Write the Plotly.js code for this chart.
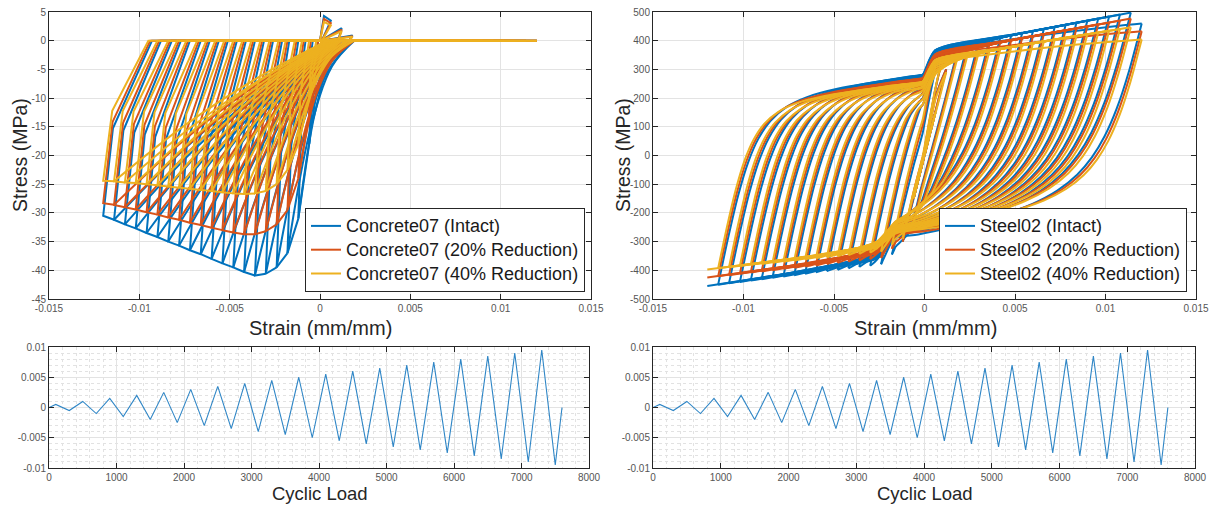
<!DOCTYPE html>
<html><head><meta charset="utf-8">
<script src="https://cdn.plot.ly/plotly-3.0.1.min.js"></script>
<style>html,body{margin:0;padding:0;background:#fff}#chart{width:1209px;height:506px}</style>
</head><body><div id="chart"></div>
<script>
// ---------------- data ----------------
const seriesNames = ["(Intact)", "(20% Reduction)", "(40% Reduction)"];
const seriesColors = ["#0072BD", "#D95319", "#EDB120"];

// strain amplitude of each cycle (mm/mm)
const cycleAmp = [0.0006,0.0012,0.0018,0.0024,0.0030,0.0036,0.0042,0.0048,0.0054,0.0060,
                  0.0066,0.0072,0.0078,0.0084,0.0090,0.0096,0.0102,0.0108,0.0114,0.0120];

// Concrete07: compressive stress at each cycle's peak (MPa)
const concEnvIntact = [-18,-31,-37,-39.5,-40.6,-40.9,-40.3,-39.5,-38.8,-38.0,-37.2,-36.5,-35.7,-35.0,-34.2,-33.5,-32.7,-32.0,-31.2,-30.5];
const concEnv20 = [-13,-24,-29.5,-32,-33.2,-33.7,-33.7,-33.4,-33.0,-32.6,-32.1,-31.7,-31.2,-30.8,-30.3,-29.9,-29.4,-29.0,-28.6,-28.3];
const concEnv40 = [-10,-18,-22.5,-25,-26.2,-26.6,-26.7,-26.6,-26.4,-26.2,-26.0,-25.8,-25.6,-25.4,-25.2,-25.0,-24.8,-24.7,-24.5,-24.4];
// Concrete07: strain where unloading reaches zero stress
const concPlIntact = [-0.0001,-0.0004,-0.0008,-0.0012,-0.0017,-0.0021,-0.0026,-0.0031,-0.0036,-0.0041,-0.0046,-0.0051,-0.0056,-0.0061,-0.0066,-0.0072,-0.0077,-0.0082,-0.0088,-0.0093];
const concPl20 = [-0.0001,-0.0005,-0.0009,-0.0013,-0.0018,-0.0022,-0.0027,-0.0032,-0.0037,-0.0042,-0.0047,-0.0052,-0.0057,-0.0062,-0.0067,-0.0073,-0.0078,-0.0083,-0.0089,-0.0094];
const concPl40 = [-0.0002,-0.0006,-0.0010,-0.0014,-0.0019,-0.0023,-0.0028,-0.0033,-0.0038,-0.0043,-0.0048,-0.0053,-0.0058,-0.0063,-0.0068,-0.0074,-0.0079,-0.0084,-0.0090,-0.0095];
// strain where compressive reloading starts (tension side)
const concReload = [0.0001,0.0010,0.0016,0.0019,0.0018,0.0016,0.0014,0.0012,0.0011,0.0010,0.0009,0.0008,0.0008,0.0007,0.0007,0.0006,0.0006,0.0005,0.0005,0.0004];
// reloading curve: stress fraction reached at 1/3 and 2/3 of the strain path
const concReloadMid1 = [0.20,0.10,0.10,0.12,0.14,0.16,0.18,0.20,0.21,0.22,0.23,0.24,0.24,0.25,0.25,0.26,0.26,0.26,0.27,0.27];
const concReloadMid2 = [0.50,0.40,0.40,0.43,0.46,0.49,0.51,0.53,0.54,0.55,0.56,0.57,0.57,0.58,0.58,0.59,0.59,0.59,0.60,0.60];
// tensile strength (MPa)
const concFt = [4.3, 3.8, 3.3];

// Steel02: peak stresses of each cycle (MPa)
const steelPosIntact = [150,300,360,393,400,407,414,421,428,435,442,449,456,463,470,477,484,491,498,460];
const steelPos20     = [150,300,350,377,383,390,397,403,410,417,423,430,437,443,450,457,463,470,477,433];
const steelPos40     = [150,290,335,355,361,367,373,379,386,392,398,404,410,417,423,429,435,441,447,404];
const steelNegIntact = [-150,-300,-345,-379,-384,-388,-393,-398,-403,-407,-412,-417,-422,-426,-431,-436,-441,-445,-450,-455];
const steelNeg20     = [-150,-300,-325,-357,-361,-366,-370,-374,-378,-383,-387,-391,-395,-400,-404,-408,-412,-417,-421,-425];
const steelNeg40     = [-150,-290,-310,-335,-339,-343,-347,-351,-355,-358,-362,-366,-370,-374,-378,-381,-385,-389,-393,-397];
// asymptote lines of the loops [intercept MPa, slope MPa]
const steelUpperPre  = [[288, 8000], [275, 7600], [262, 7200]];   // upward branches, strain < step
const steelUpperPost = [[365, 11700], [350, 11100], [330, 10300]]; // upward branches, strain > step
const steelLowerPre  = [[-300, 8000], [-290, 7600], [-280, 7200]]; // downward branches, strain > step
const steelLowerPost = [[-360, 7900], [-340, 7100], [-320, 6400]]; // downward branches, strain < step
const steelUpperStep = [-0.0001, 0.0006];
const steelLowerStep = [-0.0016, -0.0026];
// initial slope of upward / downward branches (MPa)
const steelSlopeUp = 300000, steelSlopeDown = 250000;
// roundness of each cycle's transition (0 = sharp, 1 = fully rounded)
const steelRound = [1,1,0.3,0.55,0.75,0.9,1,1,1,1,1,1,1,1,1,1,1,1,1,1];
// transition curve shapes: strain ratio -> stress ratio
const mpRatio     = [0, 0.25, 0.5, 0.75, 1, 1.3, 1.7, 2.2, 3, 4.5, 7, 10, 15];
const mpShapeUp   = [0, 0.2469, 0.4685, 0.6399, 0.7579, 0.8460, 0.9101, 0.9492, 0.9755, 0.9909, 0.9969, 0.9988, 0.9996];
const mpShapeDown = [0, 0.2368, 0.4279, 0.5686, 0.6686, 0.7509, 0.8210, 0.8736, 0.9190, 0.9560, 0.9778, 0.9873, 0.9932];

// loading history
const loadStep = [0,100,300,500,700,900,1100,1300,1500,1700,1900,2100,2300,2500,2700,2900,3100,3300,3500,3700,3900,4100,4300,4500,4700,4900,5100,5300,5500,5700,5900,6100,6300,6500,6700,6900,7100,7300,7500,7600];
const loadStrain = [0,0.0005,-0.0005,0.001,-0.001,0.0015,-0.0015,0.002,-0.002,0.0025,-0.0025,0.003,-0.003,0.0035,-0.0035,0.004,-0.004,0.0045,-0.0045,0.005,-0.005,0.0055,-0.0055,0.006,-0.006,0.0065,-0.0065,0.007,-0.007,0.0075,-0.0075,0.008,-0.008,0.0085,-0.0085,0.009,-0.009,0.0095,-0.0095,0];

// tick labels
const strainTicks = [-0.015,-0.01,-0.005,0,0.005,0.01,0.015];
const strainTickText = ["-0.015","-0.01","-0.005","0","0.005","0.01","0.015"];
const concTicks = [5,0,-5,-10,-15,-20,-25,-30,-35,-40,-45];
const concTickText = ["5","0","-5","-10","-15","-20","-25","-30","-35","-40","-45"];
const steelTicks = [500,400,300,200,100,0,-100,-200,-300,-400,-500];
const steelTickText = ["500","400","300","200","100","0","-100","-200","-300","-400","-500"];
const loadYTicks = [0.01,0.005,0,-0.005,-0.01];
const loadYTickText = ["0.01","0.005","0","-0.005","-0.01"];
const loadXTicks = [0,1000,2000,3000,4000,5000,6000,7000,8000];
const loadXTickText = ["0","1000","2000","3000","4000","5000","6000","7000","8000"];

// ---------------- path construction ----------------
function concreteTraces(env, pl, ft, color, name, legend) {
  const lx = [], ly = [];   // straight parts
  const sx = [], sy = [];   // curved reloading parts
  const soft = a => Math.max(0, ft * (1 - (a - 0.00022) / 0.0020));
  lx.push(0, 0.00022, cycleAmp[0], 0.0001); ly.push(0, ft, soft(cycleAmp[0]), 0);
  for (let k = 0; k < cycleAmp.length; k++) {
    const a = cycleAmp[k];
    const tEnd = k === 0 ? -a : -cycleAmp[k - 1];
    const sEnd = k === 0 ? env[0] : env[k - 1];
    const r = concReload[k];
    sx.push(r, r + (tEnd - r) / 3, r + 2 * (tEnd - r) / 3, tEnd, null);
    sy.push(0, concReloadMid1[k] * sEnd, concReloadMid2[k] * sEnd, sEnd, null);
    const kinkE = -a + 0.2 * (pl[k] + a);
    lx.push(null, tEnd, -a, kinkE, pl[k]);
    ly.push(null, sEnd, env[k], 0.5 * env[k], 0);
    if (k + 1 < cycleAmp.length) {
      const an = cycleAmp[k + 1];
      lx.push(0.00005 * (k + 1), an, concReload[k + 1]);
      ly.push(0, soft(an), 0);
    } else {
      lx.push(0.012); ly.push(0);
    }
  }
  return [
    {x: lx, y: ly, type: 'scatter', mode: 'lines', line: {color, width: 2},
     name: '<span style="font-size:18px">Concrete07 ' + name + '</span>',
     xaxis: 'x', yaxis: 'y', legend: legend, showlegend: true, connectgaps: false},
    {x: sx, y: sy, type: 'scatter', mode: 'lines', line: {color, width: 2, shape: 'spline', smoothing: 1},
     xaxis: 'x', yaxis: 'y', showlegend: false, connectgaps: false, hoverinfo: 'skip'}
  ];
}

function makeAsym(pre, post, step, dir) {
  // asymptote in "rising" coordinates (strain and stress multiplied by dir)
  return e => {
    const eps = dir * e;
    let s;
    const inPre = dir > 0 ? eps <= step[0] : eps >= step[0];
    const inPost = dir > 0 ? eps >= step[1] : eps <= step[1];
    if (inPre) s = pre[0] + pre[1] * eps;
    else if (inPost) s = post[0] + post[1] * eps;
    else {
      const a = pre[0] + pre[1] * step[0], b = post[0] + post[1] * step[1];
      s = a + (b - a) * (eps - step[0]) / (step[1] - step[0]);
    }
    return dir * s;
  };
}

function steelBranch(x, y, er0, sr0, ee0, se0, asymR, dir, round, stepPts) {
  const er = dir * er0, sr = dir * sr0, ee = dir * ee0, se = dir * se0;
  const E0 = dir > 0 ? steelSlopeUp : steelSlopeDown;
  const shape = dir > 0 ? mpShapeUp : mpShapeDown;
  const el = e => sr + E0 * (e - er);
  let lo = er, hi = er + 0.05;
  for (let i = 0; i < 60; i++) { const m = (lo + hi) / 2; if (el(m) - asymR(m) < 0) lo = m; else hi = m; }
  const ce = (lo + hi) / 2, cs = asymR(ce);
  if (ee <= ce) { x.push(er0, ee0, null); y.push(sr0, se0, null); return; }
  const Kc = (cs - sr) - (asymR(ce) - asymR(er));
  const pts = [];
  for (let i = 0; i < mpRatio.length; i++) {
    const e = er + mpRatio[i] * (ce - er);
    if (e >= ee) break;
    pts.push(e);
  }
  stepPts.forEach(p => { const e = dir * p; if (e > er && e < ee) pts.push(e); });
  pts.push(ee);
  pts.sort((a, b) => a - b);
  const fAt = r => {
    let f;
    if (r >= mpRatio[mpRatio.length - 1]) f = 1;
    else {
      let j = 1; while (mpRatio[j] < r) j++;
      const t = (r - mpRatio[j - 1]) / (mpRatio[j] - mpRatio[j - 1]);
      f = shape[j - 1] + t * (shape[j] - shape[j - 1]);
    }
    return round * f + (1 - round) * Math.min(r, 1);
  };
  const sc = e => asymR(e) - (1 - fAt((e - er) / (ce - er))) * Kc;
  const delta = se - sc(ee);
  pts.forEach(e => {
    const t = (e - er) / (ee - er);
    x.push(dir * e); y.push(dir * (sc(e) + delta * t * t * t));
  });
  x.push(null); y.push(null);
}

function steelTraces(i, pos, neg, color, name, legend) {
  const x = [], y = [];
  const up = makeAsym(steelUpperPre[i], steelUpperPost[i], steelUpperStep, 1);
  const dn = makeAsym(steelLowerPre[i], steelLowerPost[i], steelLowerStep, -1);
  let e0 = 0, s0 = 0;
  for (let k = 0; k < cycleAmp.length; k++) {
    const a = cycleAmp[k];
    if (k === 0) { x.push(0, a, null); y.push(0, pos[0], null); }
    else steelBranch(x, y, e0, s0, a, pos[k], up, 1, steelRound[k], steelUpperStep);
    steelBranch(x, y, a, pos[k], -a, neg[k], dn, -1, steelRound[k], steelLowerStep);
    e0 = -a; s0 = neg[k];
  }
  return [{x, y, type: 'scatter', mode: 'lines', line: {color, width: 2, shape: 'spline', smoothing: 0.7},
           name: '<span style="font-size:18px">Steel02 ' + name + '</span>',
           xaxis: 'x2', yaxis: 'y2', legend: legend, connectgaps: false}];
}

const concEnv = [concEnvIntact, concEnv20, concEnv40];
const concPl = [concPlIntact, concPl20, concPl40];
const steelPos = [steelPosIntact, steelPos20, steelPos40];
const steelNeg = [steelNegIntact, steelNeg20, steelNeg40];

let traces = [];
for (let i = 0; i < 3; i++) traces = traces.concat(concreteTraces(concEnv[i], concPl[i], concFt[i], seriesColors[i], seriesNames[i], 'legend'));
for (let i = 0; i < 3; i++) traces = traces.concat(steelTraces(i, steelPos[i], steelNeg[i], seriesColors[i], seriesNames[i], 'legend2'));
traces.push({x: loadStep, y: loadStrain, type: 'scatter', mode: 'lines', line: {color: '#2f86c6', width: 1.1}, xaxis: 'x3', yaxis: 'y3', showlegend: false});
traces.push({x: loadStep, y: loadStrain, type: 'scatter', mode: 'lines', line: {color: '#2f86c6', width: 1.1}, xaxis: 'x4', yaxis: 'y4', showlegend: false});

// ---------------- layout ----------------
const FONT = 'Liberation Sans, Arial, Helvetica, sans-serif';
const W = 1209, H = 506;
const px = v => v / W, py = v => 1 - v / H;
const baseAxis = {
  showline: true, mirror: 'ticks', linecolor: '#262626', linewidth: 1,
  ticks: 'inside', ticklen: 5, tickcolor: '#262626', tickwidth: 1,
  showgrid: true, gridcolor: '#e3e3e3', zeroline: false,
  tickfont: {family: FONT, size: 10, color: '#555'}, fixedrange: true
};
const ax = o => Object.assign({}, baseAxis, o);
const minorX = {dtick: 200, showgrid: true, gridcolor: '#e2e2e2', griddash: 'dot', ticks: ''};
const minorY = {dtick: 0.001, showgrid: true, gridcolor: '#e2e2e2', griddash: 'dot', ticks: ''};
const legendBase = {xanchor: 'right', yanchor: 'bottom', bgcolor: '#fff', bordercolor: '#262626', borderwidth: 1,
                    font: {family: FONT, size: 16, color: '#1a1a1a'}, tracegroupgap: 0};
const ann = (text, x, y, size, angle) => ({text, x: px(x), y: py(y), xref: 'paper', yref: 'paper', showarrow: false,
  xanchor: 'center', yanchor: 'middle', textangle: angle || 0, font: {family: FONT, size, color: '#262626'}});

const layout = {
  width: W, height: H, margin: {l: 0, r: 0, t: 0, b: 0},
  paper_bgcolor: '#fff', plot_bgcolor: '#fff', showlegend: true,
  font: {family: FONT},
  xaxis: ax({domain: [px(49), px(591)], range: [-0.015, 0.015], tickvals: strainTicks, ticktext: strainTickText, anchor: 'y'}),
  yaxis: ax({domain: [py(299), py(12)], range: [-45, 5], tickvals: concTicks, ticktext: concTickText, anchor: 'x'}),
  xaxis2: ax({domain: [px(653), px(1196)], range: [-0.015, 0.015], tickvals: strainTicks, ticktext: strainTickText, anchor: 'y2'}),
  yaxis2: ax({domain: [py(299), py(12)], range: [-500, 500], tickvals: steelTicks, ticktext: steelTickText, anchor: 'x2'}),
  xaxis3: ax({domain: [px(49), px(589)], range: [0, 8000], tickvals: loadXTicks, ticktext: loadXTickText, anchor: 'y3', minor: minorX}),
  yaxis3: ax({domain: [py(468), py(347)], range: [-0.01, 0.01], tickvals: loadYTicks, ticktext: loadYTickText, anchor: 'x3', minor: minorY}),
  xaxis4: ax({domain: [px(653), px(1195)], range: [0, 8000], tickvals: loadXTicks, ticktext: loadXTickText, anchor: 'y4', minor: minorX}),
  yaxis4: ax({domain: [py(468), py(347)], range: [-0.01, 0.01], tickvals: loadYTicks, ticktext: loadYTickText, anchor: 'x4', minor: minorY}),
  legend: Object.assign({x: px(585), y: py(292)}, legendBase),
  legend2: Object.assign({x: px(1187), y: py(292)}, legendBase),
  annotations: [
    ann('Stress (MPa)', 20, 155, 19.5, -90),
    ann('Stress (MPa)', 623, 155, 19.5, -90),
    ann('Strain (mm/mm)', 320, 328, 20),
    ann('Strain (mm/mm)', 925, 328, 20),
    ann('Cyclic Load', 320, 493, 18.5),
    ann('Cyclic Load', 925, 493, 18.5)
  ]
};

Plotly.newPlot('chart', traces, layout, {displayModeBar: false, staticPlot: true});
</script>
</body></html>
